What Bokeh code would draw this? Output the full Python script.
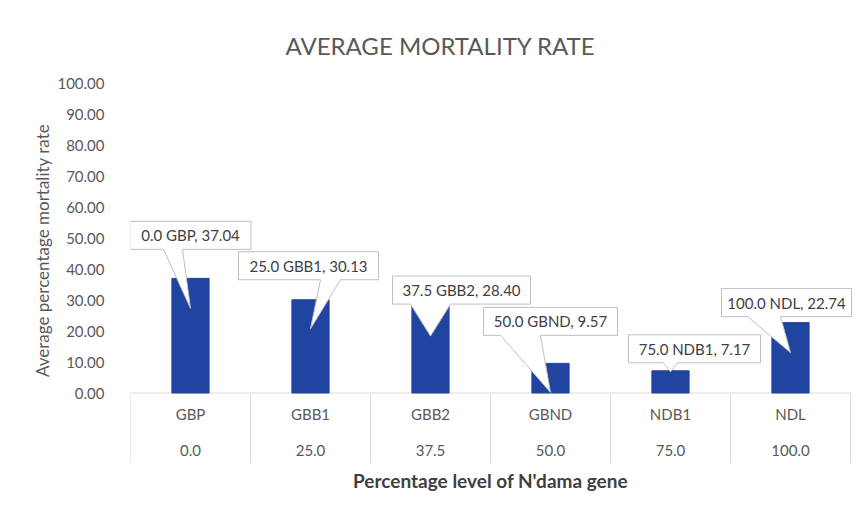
from bokeh.plotting import figure
from bokeh.models import Range1d, FixedTicker, NumeralTickFormatter, Title
from bokeh.embed import file_html
from bokeh.resources import INLINE
from bokeh.core.properties import value

# ---------------- data ----------------
breeds = ["GBP", "GBB1", "GBB2", "GBND", "NDB1", "NDL"]
levels = ["0.0", "25.0", "37.5", "50.0", "75.0", "100.0"]
mortality = [37.04, 30.13, 28.40, 9.57, 7.17, 22.74]
y_ticks = [0, 10, 20, 30, 40, 50, 60, 70, 80, 90, 100]
title_text = "AVERAGE MORTALITY RATE"
y_title = "Average percentage mortality rate"
x_title = "Percentage level of N'dama gene"

# ---------------- layout (pixels) ----------------
W, H = 852, 500
LEFT = 130            # frame left edge on canvas
PX_X = 120.0          # px per category
PX_Y = 3.095          # px per value unit
ZERO_PX = 392.5       # canvas y of value 0

def dx(px):
    return px / PX_X

def dy(px):
    return px / PX_Y

# callout layout per bar: box centre offset, box bottom above bar top, box width,
# pointer base offsets, tip depth below bar top (all in px)
box_dx = [0, -2, 31, 0, 24, -4]
box_up = [29, 20, 1, 28, 8, 6]
box_w = [121, 140, 138, 134, 132, 130]
BOX_H = 28
base_a = [-27, 10, -20, -50, -7, -43]
base_b = [-8, 30, 20, -10, 7, -10]
tip_depth = [30, 29, 31, 29, 1, 30]

BAR = "#2044A0"
GRAY = "#595959"
DARK = "#404040"
LINE = "#D9D9D9"
FONT = "Lato"

p = figure(width=W, height=H, output_backend="svg", toolbar_location=None,
           x_axis_type=None, title=None,
           x_range=Range1d(0, dx(W - LEFT)),
           y_range=Range1d(-dy(H - ZERO_PX), dy(ZERO_PX)),
           min_border_left=LEFT, min_border_right=0,
           min_border_top=0, min_border_bottom=0)
p.outline_line_color = None
p.ygrid.grid_line_color = None
p.background_fill_color = "white"
p.border_fill_color = "white"

ax = p.yaxis[0]
ax.ticker = FixedTicker(ticks=y_ticks)
ax.formatter = NumeralTickFormatter(format="0.00")
ax.axis_line_color = None
ax.major_tick_line_color = None
ax.minor_tick_line_color = None
ax.major_label_standoff = 20
ax.major_label_text_font = FONT
ax.major_label_text_font_size = "15px"
ax.major_label_text_color = GRAY

# y-axis title, centred on the 0-100 span
p.add_layout(Title(text=y_title, align="center", offset=13, text_font=FONT,
                   text_font_size="17px", text_font_style="normal",
                   text_color=GRAY, standoff=4), "left")

xc = [i + 0.5 for i in range(len(breeds))]
n = len(breeds)

# category table lines
p.segment(x0=[0], y0=[0], x1=[n], y1=[0], line_color=LINE, line_width=1)
table_bottom = -dy(70)
p.segment(x0=list(range(n + 1)), y0=[0] * (n + 1), x1=list(range(n + 1)),
          y1=[table_bottom] * (n + 1), line_color=LINE, line_width=1)

# bars
p.vbar(x=xc, top=mortality, width=0.31, fill_color=BAR, line_color=BAR)

# category labels
p.text(x=xc, y=[-dy(20.5)] * n, text=breeds, text_align="center", text_baseline="middle",
       text_font=value(FONT), text_font_size="15px", text_color=GRAY)
p.text(x=xc, y=[-dy(57.5)] * n, text=levels, text_align="center", text_baseline="middle",
       text_font=value(FONT), text_font_size="15px", text_color=GRAY)

# callouts
xs, ys, tx, ty, labels = [], [], [], [], []
for i in range(n):
    top = mortality[i]
    cx = xc[i] + dx(box_dx[i])
    L = cx - dx(box_w[i] / 2)
    R = cx + dx(box_w[i] / 2)
    B = top + dy(box_up[i])
    T = B + dy(BOX_H)
    b1 = xc[i] + dx(base_a[i])
    b2 = xc[i] + dx(base_b[i])
    tipx = xc[i]
    tipy = top - dy(tip_depth[i])
    xs.append([L, R, R, b2, tipx, b1, L])
    ys.append([T, T, B, B, tipy, B, B])
    tx.append(cx)
    ty.append((B + T) / 2)
    labels.append(f"{levels[i]} {breeds[i]}, {mortality[i]:.2f}")

p.patches(xs=xs, ys=ys, fill_color="white", line_color="#BFBFBF", line_width=1)
p.text(x=tx, y=ty, text=labels, text_align="center", text_baseline="middle",
       text_font=value(FONT), text_font_size="15px", text_color=DARK)

# titles
p.text(x=[dx(310)], y=[dy(ZERO_PX - 45)], text=[title_text], text_align="center",
       text_baseline="middle", text_font=value(FONT), text_font_size="24px",
       text_color=GRAY)
p.text(x=[dx(360)], y=[-dy(87.5)], text=[x_title], text_align="center",
       text_baseline="middle", text_font=value(FONT), text_font_size="19px",
       text_font_style="bold", text_color=DARK)

open("out.html", "w").write(file_html(p, INLINE))
